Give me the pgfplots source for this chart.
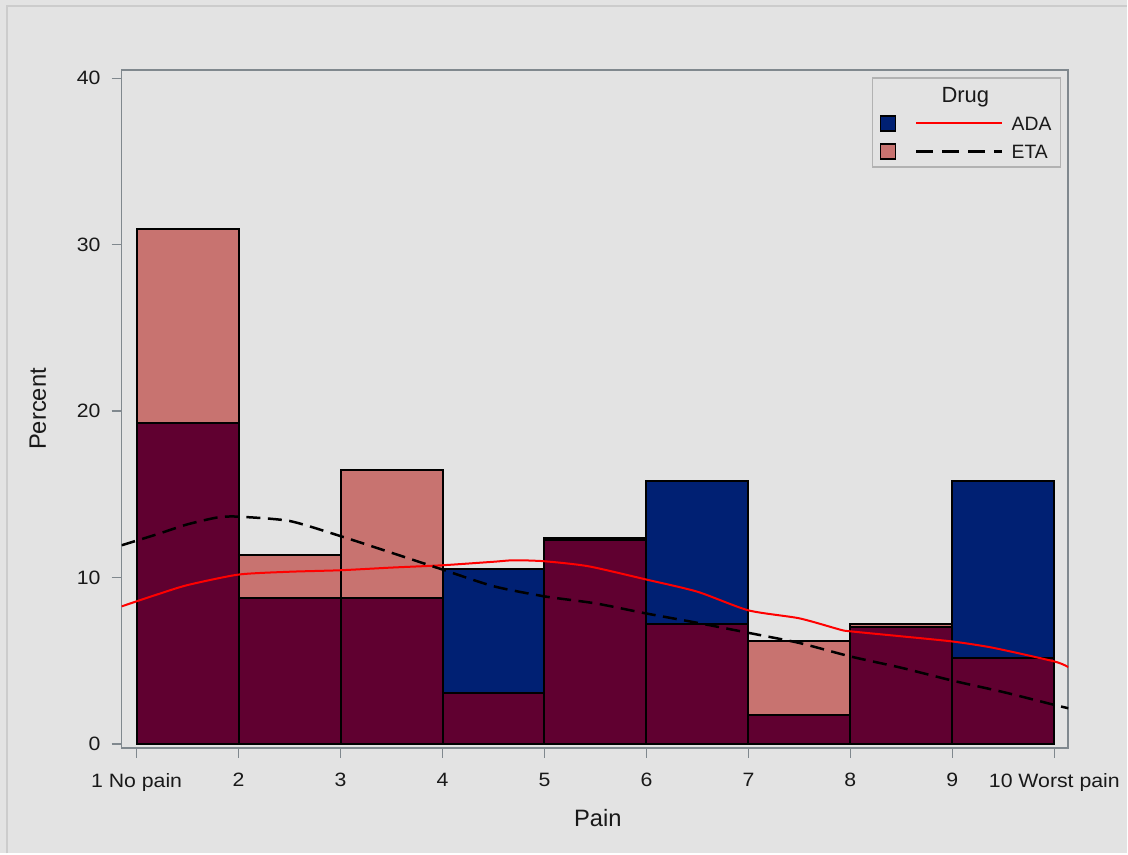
\documentclass[border=0pt]{standalone}
\usepackage{pgfplots}
\pgfplotsset{compat=1.18}
\usepackage{fontspec}
\setmainfont{Liberation Sans}
\newfontfamily\tickfont[FakeStretch=1.1]{Liberation Sans}

\definecolor{bggray}{RGB}{227,227,227}
\definecolor{framegray}{RGB}{128,136,142}
\definecolor{adablue}{RGB}{0,32,115}
\definecolor{etapink}{RGB}{200,115,112}
\definecolor{overlap}{RGB}{96,0,48}

\begin{document}
\begin{tikzpicture}
% page background, 1 px = 0.2 mm
\fill[bggray] (0,0) rectangle (225.6mm,170.8mm);
\draw[black!20, line width=0.3mm] (1.4mm,0) -- (1.4mm,169.6mm) -- (225.6mm,169.6mm);

\begin{axis}[
    at={(24.34mm,21.1mm)}, anchor=south west,
    scale only axis,
    width=189.46mm, height=135.7mm,
    xmin=0.853, xmax=10.137,
    ymin=-0.24, ymax=40.5,
    xtick={1,2,3,4,5,6,7,8,9,10},
    xticklabels={1 No pain,2,3,4,5,6,7,8,9,10 Worst pain},
    ytick={0,10,20,30,40},
    tick align=outside,
    major tick length=2mm,
    tick style={framegray, line width=0.3mm},
    xtick pos=bottom, ytick pos=left,
    axis line style={framegray, line width=0.35mm},
    /pgf/number format/assume math mode=true,
    ticklabel style={font=\tickfont\fontsize{11}{13}\selectfont, text=black!90},
    yticklabel style={xshift=-1mm},
    xticklabel style={yshift=-1.8mm},
    xlabel={Pain}, ylabel={Percent},
    label style={font=\fontsize{13.5}{15}\selectfont, text=black!90},
    xlabel style={at={(axis description cs:0.503,-0.104)}, anchor=center},
    ylabel style={at={(axis description cs:-0.0884,0.5)}, anchor=center, rotate=0},
  ]
  % ADA histogram
  \addplot[ybar interval, fill=adablue, draw=black, line width=0.4mm] coordinates {
    (1,19.30) (2,8.77) (3,8.77) (4,10.53) (5,12.28)
    (6,15.79) (7,1.75) (8,7.02) (9,15.79) (10,15.79)
  };
  % ETA histogram
  \addplot[ybar interval, fill=etapink, draw=black, line width=0.4mm] coordinates {
    (1,30.93) (2,11.34) (3,16.49) (4,3.09) (5,12.37)
    (6,7.22) (7,6.19) (8,7.22) (9,5.15) (10,5.15)
  };
  % overlap of both
  \addplot[ybar interval, fill=overlap, draw=black, line width=0.4mm] coordinates {
    (1,19.30) (2,8.77) (3,8.77) (4,3.09) (5,12.28)
    (6,7.22) (7,1.75) (8,7.02) (9,5.15) (10,5.15)
  };
  % ADA density
  \addplot[red, line width=0.4mm, smooth, tension=0.4] coordinates {
    (0.853,8.27) (1.2,8.98) (1.5,9.55) (2,10.18) (2.5,10.35)
    (3,10.44) (3.5,10.6) (4,10.74) (4.5,10.95) (4.7,11.04)
    (5,10.98) (5.43,10.68) (6,9.88) (6.5,9.15) (7,8.03)
    (7.5,7.55) (7.9,6.87) (8,6.77) (8.5,6.47) (9,6.16)
    (9.4,5.78) (10,4.96) (10.137,4.62)
  };
  % ETA density
  \addplot[black, line width=0.5mm, dash pattern=on 2.8mm off 1.5mm, smooth, tension=0.4] coordinates {
    (0.853,11.94) (1.2,12.6) (1.5,13.2) (1.8,13.62) (2,13.66)
    (2.5,13.4) (3,12.49) (3.5,11.49) (4,10.48) (4.5,9.48)
    (5,8.87) (5.5,8.45) (6,7.84) (6.5,7.28) (7,6.68)
    (7.5,6.07) (8,5.26) (8.5,4.58) (9,3.81) (9.5,3.12)
    (10,2.35) (10.137,2.15)
  };
\end{axis}

% legend, in pixel coordinates of the reference
\begin{scope}[shift={(0,170.8mm)}, x=0.2mm, y=-0.2mm]
  \draw[black!30, line width=0.3mm, fill=bggray] (873,78) rectangle (1061,167);
  \node[font=\fontsize{12.5}{14}\selectfont, text=black!90] at (966,97) {Drug};
  \draw[black, line width=0.3mm, fill=adablue] (881,116) rectangle (896,131);
  \draw[black, line width=0.3mm, fill=etapink] (881,144) rectangle (896,159);
  \draw[red, line width=0.4mm] (917,123.3) -- (1003,123.3);
  \draw[black, line width=0.5mm, dash pattern=on 3.4mm off 1.8mm] (917,151.7) -- (1003,151.7);
  \node[anchor=west, inner sep=0pt, font=\fontsize{11}{13}\selectfont, text=black!90] at (1012,124) {ADA};
  \node[anchor=west, inner sep=0pt, font=\fontsize{11}{13}\selectfont, text=black!90] at (1012,152) {ETA};
\end{scope}
\end{tikzpicture}
\end{document}
